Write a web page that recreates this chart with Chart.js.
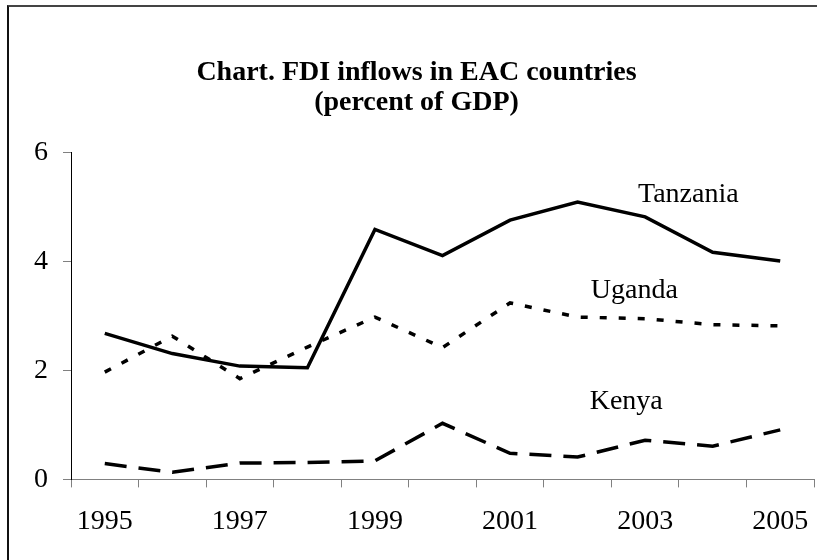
<!DOCTYPE html>
<html>
<head>
<meta charset="utf-8">
<script src="https://cdn.jsdelivr.net/npm/chart.js@4/dist/chart.umd.min.js"></script>
<style>
  html, body { margin: 0; padding: 0; background: #fff; }
  #wrap { position: relative; width: 817px; height: 560px; overflow: hidden; }
  #frame { position: absolute; left: 7px; top: 5px; width: 830px; height: 580px;
           border-left: 2px solid #111; border-top: 2px solid #444; pointer-events: none; }
</style>
</head>
<body>
<div id="wrap">
  <canvas id="fdiChart" width="817" height="560"></canvas>
  <div id="frame"></div>
</div>
<script>
const years = ['1995', '1996', '1997', '1998', '1999', '2000', '2001', '2002', '2003', '2004', '2005'];
const tanzania = [2.68, 2.31, 2.08, 2.05, 4.59, 4.11, 4.76, 5.09, 4.82, 4.17, 4.01];
const uganda = [1.97, 2.63, 1.85, 2.43, 2.98, 2.42, 3.24, 2.98, 2.95, 2.84, 2.82];
const kenya = [0.29, 0.13, 0.30, 0.31, 0.34, 1.03, 0.48, 0.41, 0.72, 0.61, 0.91];
const yTicks = [0, 2, 4, 6];

// inline series names, anchored in data units (category index, value)
const seriesLabels = [
    { text: 'Tanzania', at: 8.64, value: 5.22 },
    { text: 'Uganda', at: 7.84, value: 3.47 },
    { text: 'Kenya', at: 7.72, value: 1.42 }
];

const serif = "'Liberation Serif', 'Times New Roman', serif";

const inlineLabels = {
    id: 'inlineLabels',
    afterDatasetsDraw(chart) {
        const ctx = chart.ctx;
        const x = chart.scales.x, y = chart.scales.y;
        ctx.save();
        ctx.font = '28px ' + serif;
        ctx.fillStyle = '#000';
        ctx.textAlign = 'center';
        ctx.textBaseline = 'middle';
        seriesLabels.forEach(l => {
            ctx.fillText(l.text, x.getPixelForValue(l.at), y.getPixelForValue(l.value));
        });
        ctx.restore();
    }
};

const ctx = document.getElementById('fdiChart').getContext('2d');
const fdiChart = new Chart(ctx, {
    type: 'line',
    data: {
        labels: years,
        datasets: [{
            label: 'Tanzania',
            data: tanzania,
            borderColor: '#000',
            borderWidth: 3.5,
            pointRadius: 0,
            tension: 0
        }, {
            label: 'Uganda',
            data: uganda,
            borderColor: '#000',
            borderWidth: 3.5,
            borderDash: [7, 12],
            pointRadius: 0,
            tension: 0
        }, {
            label: 'Kenya',
            data: kenya,
            borderColor: '#000',
            borderWidth: 3.5,
            borderDash: [22, 12],
            pointRadius: 0,
            tension: 0
        }]
    },
    options: {
        responsive: false,
        animation: false,
        layout: {
            padding: { left: 19, right: 3, top: 0, bottom: 5 }
        },
        plugins: {
            legend: { display: false },
            tooltip: { enabled: false },
            title: {
                display: true,
                text: ['Chart. FDI inflows in EAC countries', '(percent of GDP)'],
                color: '#000',
                font: { family: serif, size: 28, weight: 'bold', lineHeight: 1.1 },
                padding: { top: 57, bottom: 34 }
            }
        },
        scales: {
            x: {
                offset: true,
                grid: {
                    offset: true,
                    drawOnChartArea: false,
                    drawTicks: true,
                    tickLength: 8,
                    color: '#808080'
                },
                border: { display: true, color: '#808080', width: 1 },
                ticks: {
                    autoSkip: false,
                    maxRotation: 0,
                    padding: 3,
                    color: '#000',
                    font: { family: serif, size: 28, lineHeight: 2.2 },
                    callback: function(value, index) {
                        return index % 2 === 0 ? years[index] : '';
                    }
                }
            },
            y: {
                min: yTicks[0],
                max: yTicks[yTicks.length - 1],
                afterBuildTicks: function(axis) {
                    axis.ticks = yTicks.map(v => ({ value: v }));
                },
                grid: {
                    drawOnChartArea: false,
                    drawTicks: true,
                    tickLength: 8,
                    color: '#808080'
                },
                border: { display: true, color: '#000', width: 1 },
                ticks: {
                    padding: 15,
                    color: '#000',
                    font: { family: serif, size: 28 }
                }
            }
        }
    },
    plugins: [inlineLabels]
});
</script>
</body>
</html>
